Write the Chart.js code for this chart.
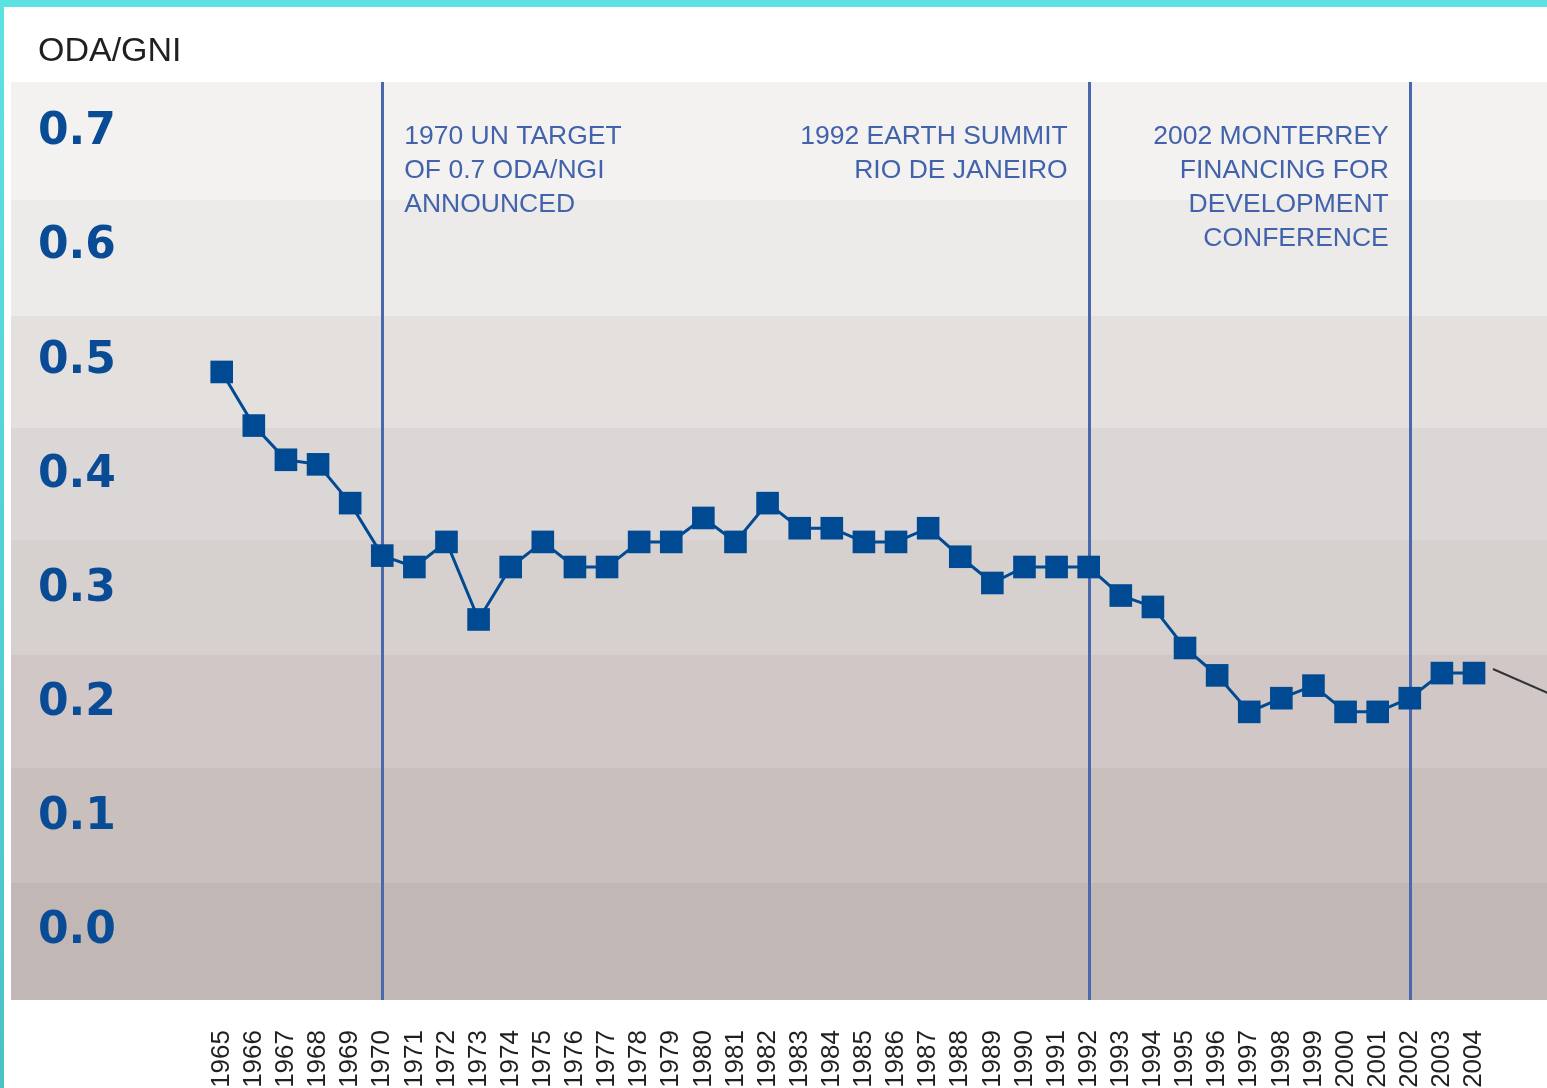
<!DOCTYPE html>
<html>
<head>
<meta charset="utf-8">
<script src="https://cdn.jsdelivr.net/npm/chart.js@4.4.1/dist/chart.umd.min.js"></script>
<style>
html,body{margin:0;padding:0;background:#fff;overflow:hidden}
canvas{display:block}
</style>
</head>
<body>
<canvas id="c" width="1547" height="1088"></canvas>
<script>
// ---- data ----
const years = [1965,1966,1967,1968,1969,1970,1971,1972,1973,1974,1975,1976,1977,1978,1979,1980,1981,1982,1983,1984,1985,1986,1987,1988,1989,1990,1991,1992,1993,1994,1995,1996,1997,1998,1999,2000,2001,2002,2003,2004];
const odaGni = [0.487,0.440,0.410,0.406,0.372,0.326,0.316,0.338,0.270,0.316,0.338,0.316,0.316,0.338,0.338,0.359,0.338,0.372,0.350,0.350,0.338,0.338,0.350,0.325,0.302,0.316,0.316,0.316,0.291,0.281,0.245,0.221,0.189,0.201,0.212,0.189,0.189,0.201,0.223,0.223];
const yTicks = [0,0.1,0.2,0.3,0.4,0.5,0.6,0.7];
const bandEdges = [0.039,0.140,0.239,0.340,0.438,0.536,0.638];
const bandColors = ['#c1b8b6','#c9c0be','#d0c7c6','#d6d0ce','#dcd7d7','#e4e0de','#ecebe9','#f3f2f1'];
const eventYears = [1970,1992,2002];
const eventLabels = [
  ['1970 UN TARGET','OF 0.7 ODA/NGI','ANNOUNCED'],
  ['1992 EARTH SUMMIT','RIO DE JANEIRO'],
  ['2002 MONTERREY','FINANCING FOR','DEVELOPMENT','CONFERENCE']
];
const eventSide = ['right','left','left'];
const pointerX = [2004.59, 2008];
const pointerY = [0.2266, 0.1847];
const axisTitle = 'ODA/GNI';

const deco = {
  id: 'deco',
  beforeDraw(chart) {
    const {ctx, chartArea: a, scales: {y}} = chart;
    ctx.save();
    ctx.fillStyle = '#ffffff';
    ctx.fillRect(0, 0, chart.width, chart.height);
    const g = ctx.createLinearGradient(0, 0, 0, chart.height);
    g.addColorStop(0, '#5de2e2');
    g.addColorStop(1, '#4bc2c4');
    ctx.fillStyle = g;
    ctx.fillRect(0, 0, 4, chart.height);
    ctx.fillStyle = '#5de2e2';
    ctx.fillRect(0, 0, chart.width, 7);
    const edges = [y.min, ...bandEdges, y.max];
    for (let i = 0; i < bandColors.length; i++) {
      const top = Math.round(y.getPixelForValue(edges[i + 1]));
      const bot = Math.round(y.getPixelForValue(edges[i]));
      ctx.fillStyle = bandColors[i];
      ctx.fillRect(a.left, top, a.right - a.left, bot - top);
    }
    ctx.fillStyle = '#231f20';
    ctx.font = '34px "Liberation Sans", Arial, sans-serif';
    ctx.textBaseline = 'middle';
    ctx.textAlign = 'left';
    ctx.fillText(axisTitle, 38, 51.5);
    ctx.restore();
  },
  beforeDatasetsDraw(chart) {
    const {ctx, chartArea: a, scales: {x}} = chart;
    ctx.save();
    ctx.strokeStyle = '#4a68ae';
    ctx.lineWidth = 3;
    eventYears.forEach((yr) => {
      const px = Math.round(x.getPixelForValue(yr)) + 0.5;
      ctx.beginPath();
      ctx.moveTo(px, a.top);
      ctx.lineTo(px, a.bottom);
      ctx.stroke();
    });
    ctx.fillStyle = '#4263ab';
    ctx.font = '26.5px "Liberation Sans", Arial, sans-serif';
    ctx.textBaseline = 'middle';
    eventYears.forEach((yr, i) => {
      const px = x.getPixelForValue(yr);
      const right = eventSide[i] === 'right';
      ctx.textAlign = right ? 'left' : 'right';
      const tx = right ? px + 22 : px - 21;
      eventLabels[i].forEach((t, j) => {
        ctx.fillText(t, tx, a.top + 54.5 + 34 * j);
      });
    });
    ctx.restore();
  }
};

new Chart(document.getElementById('c'), {
  type: 'line',
  data: {
    datasets: [
      {
        data: years.map((yr, i) => ({x: yr, y: odaGni[i]})),
        borderColor: '#004a93',
        borderWidth: 3,
        pointStyle: 'rect',
        pointRadius: 16,
        pointHoverRadius: 16,
        pointBackgroundColor: '#004a93',
        pointBorderWidth: 0,
        tension: 0
      },
      {
        data: pointerX.map((v, i) => ({x: v, y: pointerY[i]})),
        borderColor: '#333333',
        borderWidth: 2,
        pointRadius: 0,
        tension: 0
      }
    ]
  },
  options: {
    responsive: false,
    animation: false,
    devicePixelRatio: 1,
    layout: {autoPadding: false, padding: {top: 82, left: 11, right: 0, bottom: 0}},
    plugins: {legend: {display: false}, title: {display: false}, tooltip: {enabled: false}},
    events: [],
    scales: {
      x: {
        type: 'linear',
        min: 1958.438,
        max: 2006.273,
        grid: {display: false, drawTicks: false},
        border: {display: false},
        afterBuildTicks: (s) => { s.ticks = years.map(v => ({value: v})); },
        afterFit: (s) => { s.height = 88; s.paddingLeft = 0; s.paddingRight = 0; },
        ticks: {
          autoSkip: false,
          minRotation: 90,
          maxRotation: 90,
          padding: 30,
          color: '#231f20',
          font: {family: '"Liberation Sans", Arial, sans-serif', size: 26},
          callback: (v) => String(v)
        }
      },
      y: {
        type: 'linear',
        min: -0.0636,
        max: 0.7412,
        grid: {display: false, drawTicks: false},
        border: {display: false},
        afterBuildTicks: (s) => { s.ticks = yTicks.map(v => ({value: v})); },
        afterFit: (s) => { s.width = 0; s.paddingTop = 0; s.paddingBottom = 0; },
        ticks: {
          mirror: true,
          padding: 27,
          labelOffset: 4,
          z: 1,
          color: '#0a4b96',
          font: {family: '"DejaVu Sans", sans-serif', weight: 'bold', size: 44},
          callback: (v) => Number(v).toFixed(1)
        }
      }
    }
  },
  plugins: [deco]
});
</script>
</body>
</html>
